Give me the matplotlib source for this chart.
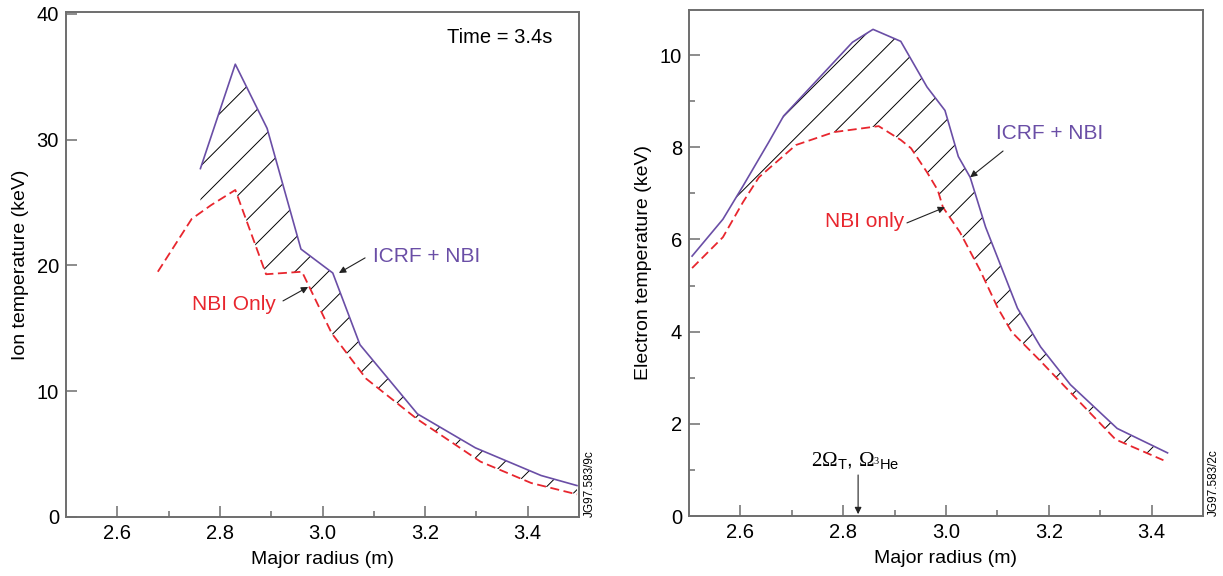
import numpy as np
import matplotlib
matplotlib.use("Agg")
import matplotlib.pyplot as plt

plt.rcParams['font.family'] = ['Liberation Sans', 'DejaVu Sans']
plt.rcParams['hatch.linewidth'] = 0.7
plt.rcParams['hatch.color'] = 'black'
plt.rcParams['mathtext.rm'] = 'Liberation Serif'
plt.rcParams['mathtext.it'] = 'Liberation Serif:italic'
plt.rcParams['mathtext.sf'] = 'Liberation Sans'

# ---------------- data: left panel (ion temperature) ----------------
ion_icrf_r = [2.762, 2.830, 2.892, 2.958, 3.020, 3.073, 3.185, 3.298, 3.426, 3.496]
ion_icrf_t = [27.7, 36.0, 30.9, 21.3, 19.4, 13.7, 8.2, 5.5, 3.3, 2.5]
ion_nbi_r = [2.679, 2.745, 2.783, 2.830, 2.890, 2.960, 3.018, 3.085, 3.184, 3.308, 3.407, 3.496]
ion_nbi_t = [19.5, 23.7, 24.8, 26.0, 19.3, 19.5, 14.6, 11.0, 7.8, 4.4, 2.7, 1.8]

# ---------------- data: right panel (electron temperature) ----------------
el_icrf_r = [2.506, 2.566, 2.605, 2.655, 2.684, 2.818, 2.858, 2.912, 2.963, 2.998,
             3.024, 3.047, 3.077, 3.139, 3.184, 3.242, 3.333, 3.431]
el_icrf_t = [5.64, 6.44, 7.16, 8.11, 8.68, 10.28, 10.56, 10.30, 9.31, 8.80,
             7.80, 7.35, 6.27, 4.51, 3.67, 2.85, 1.90, 1.37]
el_nbi_r = [2.506, 2.566, 2.605, 2.636, 2.708, 2.782, 2.869, 2.912, 2.932, 2.963, 2.984,
            2.994, 3.027, 3.066, 3.101, 3.128, 3.184, 3.256, 3.330, 3.423]
el_nbi_t = [5.38, 6.05, 6.81, 7.35, 8.05, 8.33, 8.46, 8.16, 7.98, 7.46, 7.07,
            6.70, 6.16, 5.34, 4.51, 3.99, 3.36, 2.52, 1.66, 1.21]

x_ticks = [2.6, 2.8, 3.0, 3.2, 3.4]
x_minor = [2.7, 2.9, 3.1, 3.3]
ion_yticks = [0, 10, 20, 30, 40]
el_yticks = [0, 2, 4, 6, 8, 10]
el_yminor = [1, 3, 5, 7, 9]

PURPLE = '#6a4ea6'
RED = '#e8262e'
SPINE = '#6e6e6e'

fig = plt.figure(figsize=(12.23, 5.76), dpi=100)
axL = fig.add_axes([66/1223, 59/576, 513/1223, 505/576])
axR = fig.add_axes([689/1223, 60/576, 514/1223, 506/576])


def style(ax, yticks, yminor, ylim):
    ax.set_xlim(2.5, 3.5)
    ax.set_ylim(*ylim)
    ax.set_xticks(x_ticks)
    ax.set_xticklabels([f"{v:.1f}" for v in x_ticks])
    ax.set_xticks(x_minor, minor=True)
    ax.set_yticks(yticks)
    ax.set_yticklabels([str(v) for v in yticks])
    if yminor:
        ax.set_yticks(yminor, minor=True)
    for s in ax.spines.values():
        s.set_color(SPINE)
        s.set_linewidth(1.4)
    ax.tick_params(axis='both', which='major', direction='in', length=8,
                   width=1.1, color=SPINE, labelsize=14.5, pad=5)
    ax.tick_params(axis='both', which='minor', direction='in', length=4.5,
                   width=1.1, color=SPINE)
    ax.tick_params(top=False, right=False, which='both')


def hatch_region(ax, xu, yu, xl, yl):
    x0, x1 = xu[0], xu[-1]
    lo_x = [x1] + [v for v in xl[::-1] if x0 < v < x1] + [x0]
    lo_y = list(np.interp(lo_x, xl, yl))
    px = list(xu) + lo_x
    py = list(yu) + lo_y
    ax.fill(px, py, facecolor='none', edgecolor='black', hatch='/', linewidth=0)


ARROW = dict(arrowstyle='-|>', color='#222222', lw=0.8, mutation_scale=10,
             shrinkA=0, shrinkB=0)

# ---------- left panel ----------
style(axL, ion_yticks, None, (0, 40.15))
hatch_region(axL, ion_icrf_r, ion_icrf_t, ion_nbi_r, ion_nbi_t)
axL.plot(ion_icrf_r, ion_icrf_t, color=PURPLE, lw=1.2)
axL.plot(ion_nbi_r, ion_nbi_t, color=RED, lw=1.3, dashes=(5, 2.5))
axL.set_xlabel('Major radius (m)', fontsize=14)
axL.set_ylabel('Ion temperature (keV)', fontsize=14)
axL.xaxis.set_label_coords(0.5, -0.068)
axL.yaxis.set_label_coords(-0.072, 0.5)
axL.text(0.846, 0.950, 'Time = 3.4s', transform=axL.transAxes, fontsize=14.5,
         ha='center', va='center')
axL.text(3.202, 20.75, 'ICRF + NBI', color=PURPLE, fontsize=15, ha='center', va='center')
axL.annotate('', xy=(3.032, 19.4), xytext=(3.083, 20.6), arrowprops=ARROW)
axL.text(2.827, 16.86, 'NBI Only', color=RED, fontsize=15, ha='center', va='center')
axL.annotate('', xy=(2.972, 18.29), xytext=(2.923, 17.18), arrowprops=ARROW)
axL.text(1.009, 0.0, 'JG97.583/9c', transform=axL.transAxes, rotation=90,
         fontsize=8.5, ha='left', va='bottom')

# ---------- right panel ----------
style(axR, el_yticks, el_yminor, (0, 10.98))
hatch_region(axR, el_icrf_r, el_icrf_t, el_nbi_r, el_nbi_t)
axR.plot(el_icrf_r, el_icrf_t, color=PURPLE, lw=1.2)
axR.plot(el_nbi_r, el_nbi_t, color=RED, lw=1.3, dashes=(5, 2.5))
axR.set_xlabel('Major radius (m)', fontsize=14)
axR.set_ylabel('Electron temperature (keV)', fontsize=14)
axR.xaxis.set_label_coords(0.5, -0.068)
axR.yaxis.set_label_coords(-0.072, 0.5)
axR.text(3.202, 8.29, 'ICRF + NBI', color=PURPLE, fontsize=15, ha='center', va='center')
axR.annotate('', xy=(3.047, 7.35), xytext=(3.111, 7.92), arrowprops=ARROW)
axR.text(2.842, 6.40, 'NBI only', color=RED, fontsize=15, ha='center', va='center')
axR.annotate('', xy=(2.998, 6.70), xytext=(2.924, 6.36), arrowprops=ARROW)
axR.text(2.823, 1.21, r'$\mathrm{2\Omega}_{\mathsf{T}}$, $\mathrm{\Omega}_{^{3}\mathsf{He}}$',
         fontsize=15, ha='center', va='center', math_fontfamily='custom')
axR.annotate('', xy=(2.829, 0.04), xytext=(2.829, 0.89), arrowprops=ARROW)
axR.text(1.009, 0.0, 'JG97.583/2c', transform=axR.transAxes, rotation=90,
         fontsize=8.5, ha='left', va='bottom')

fig.savefig('out.png', dpi=100)
